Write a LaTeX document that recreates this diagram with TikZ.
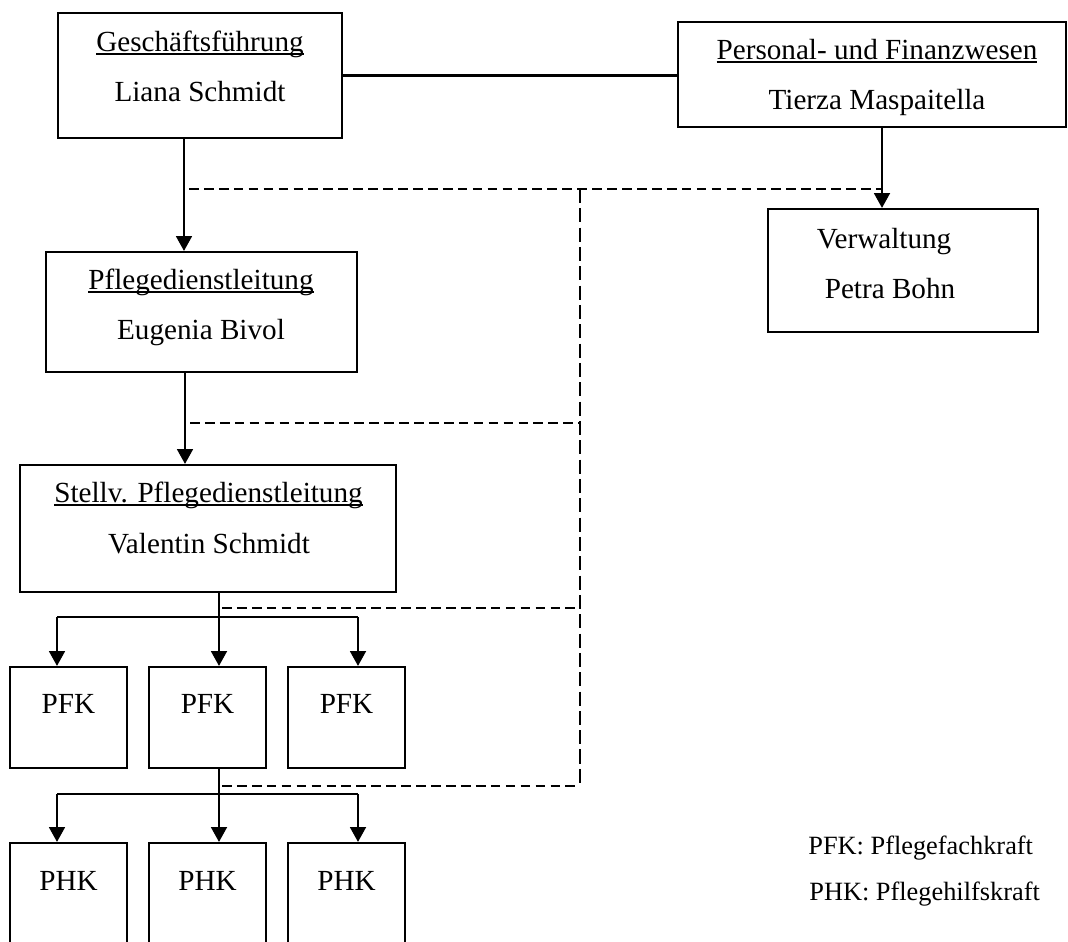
\documentclass[tikz,border=0pt]{standalone}
\usepackage{fontspec}
\setmainfont{Liberation Serif}
\usetikzlibrary{arrows.meta,calc}
\newcommand{\titel}[1]{\setbox0\hbox{#1}\rlap{\rule[-2pt]{\wd0}{0.8pt}}\box0}

\begin{document}
\begin{tikzpicture}[x=0.02cm,y=-0.02cm,
      box/.style={draw,line width=1.2pt,inner sep=0pt},
      txt/.style={inner sep=0pt,anchor=base,font=\fontsize{16.6}{20}\selectfont},
      leg/.style={inner sep=0pt,anchor=base west,font=\fontsize{15}{18}\selectfont},
      ln/.style={line width=1.4pt},
      arr/.style={line width=1.4pt,-{Triangle[length=8.5pt,width=9pt]}},
      dh/.style={line width=1pt,dash pattern=on 5.5pt off 3pt},
      dvert/.style={line width=1pt,dash pattern=on 8pt off 3pt}]
    \useasboundingbox (0,0) rectangle (1068,941);
    \clip (0,0) rectangle (1068,941);
    % leitung
    \node[box,minimum width=5.68cm,minimum height=2.5cm] (gf) at (200,75.5) {};
    \node[txt] (gf-t) at (200,51) {\titel{Geschäftsführung}};
    \node[txt] (gf-n) at (200,101) {Liana Schmidt};
    \node[box,minimum width=7.76cm,minimum height=2.1cm] (pf) at (872,74.5) {};
    \node[txt] (pf-t) at (877,59) {\titel{Personal- und Finanzwesen}};
    \node[txt] (pf-n) at (877,109) {Tierza Maspaitella};
    \node[box,minimum width=5.4cm,minimum height=2.46cm] (vw) at (903,270.5) {};
    \node[txt] (vw-t) at (884,248) {Verwaltung};
    \node[txt] (vw-n) at (890,298) {Petra Bohn};
    % pflege
    \node[box,minimum width=6.22cm,minimum height=2.4cm] (pdl) at (201.5,312) {};
    \node[txt] (pdl-t) at (201,289) {\titel{Pflegedienstleitung}};
    \node[txt] (pdl-n) at (201,339) {Eugenia Bivol};
    \node[box,minimum width=7.52cm,minimum height=2.54cm] (stv) at (208,528.5) {};
    \node[txt] (stv-t) at (208.5,502) {\titel{Stellv. Pflegedienstleitung}};
    \node[txt] (stv-n) at (209,553) {Valentin Schmidt};
    \foreach \i/\x/\ax in {1/68.5/57,2/207.5/219,3/346.5/358} {
      \node[box,minimum width=2.34cm,minimum height=2.02cm] (pfk\i) at (\x,717.5) {};
      \node[txt] (pfk\i-t) at (\x,713) {PFK};
      \node[box,minimum width=2.34cm,minimum height=2.4cm] (phk\i) at (\x,903) {};
      \node[txt] (phk\i-t) at (\x,890) {PHK};
      \coordinate (fa\i) at (\ax,617);
      \coordinate (ha\i) at (\ax,794);}
    % legende
    \node[leg] (leg1) at (808,854) {PFK: Pflegefachkraft};
    \node[leg] (leg2) at (809,900) {PHK: Pflegehilfskraft};
    % linien
    \coordinate (a1) at (184,0);
    \coordinate (a2) at (882,0);
    \coordinate (a3) at (185,0);
    \draw[line width=1.2pt] (gf.east) -- (gf.east -| pf.west);
    \draw[arr] (a1 |- gf.south) -- (a1 |- pdl.north);
    \draw[arr] (a2 |- pf.south) -- (a2 |- vw.north);
    \draw[arr] (a3 |- pdl.south) -- (a3 |- stv.north);
    \draw[ln] (fa2 |- stv.south) -- (fa2);
    \draw[ln] (fa1) -- (fa3);
    \draw[ln] (ha2 |- pfk2.south) -- (ha2);
    \draw[ln] (ha1) -- (ha3);
    \foreach \i in {1,2,3} {
      \draw[arr] (fa\i) -- (fa\i |- pfk\i.north);
      \draw[arr] (ha\i) -- (ha\i |- phk\i.north);}
    % gestrichelt
    \coordinate (dk) at (580,189);
    \coordinate (d1) at (189,189);
    \coordinate (d2) at (190,423);
    \coordinate (d3) at (222,608);
    \coordinate (d4) at (222,786);
    \draw[dh] (d1) -- (d1 -| a2);
    \draw[dvert] (dk) -- (dk |- d4);
    \foreach \d in {d2,d3,d4}
      \draw[dh] (\d) -- (\d -| dk);
  \end{tikzpicture}
\end{document}
